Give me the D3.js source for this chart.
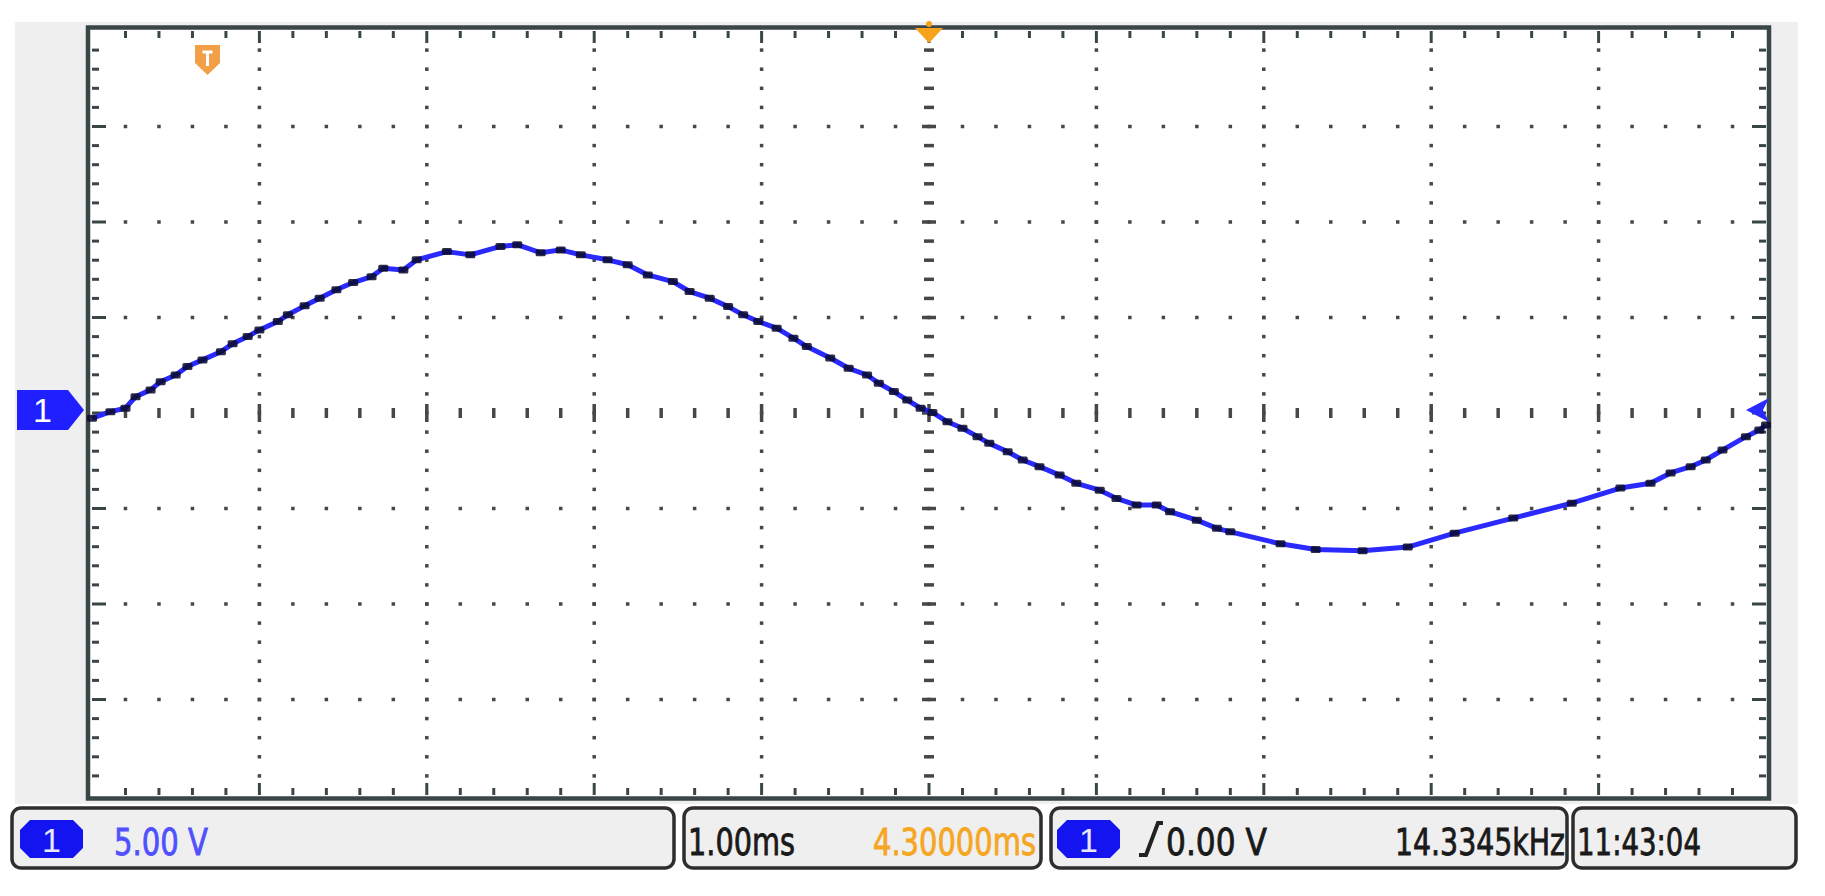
<!DOCTYPE html>
<html>
<head>
<meta charset="utf-8">
<script src="https://cdn.jsdelivr.net/npm/d3@7"></script>
<style>
    body { margin: 0; background: #ffffff; }
    svg { display: block; }
    .readout { font-family: "Liberation Sans Narrow", "DejaVu Sans Condensed", "Liberation Sans", Arial, sans-serif; }
</style>
</head>
<body>
<div id="scope"></div>
<script>
// trace: time in ms, channel 1 in volts
var timeMs = [0.00, 0.11, 0.20, 0.26, 0.35, 0.41, 0.50, 0.57, 0.66, 0.77, 0.84, 0.93,
    1.00, 1.11, 1.17, 1.27, 1.36, 1.46, 1.56, 1.67, 1.74, 1.86, 1.94, 2.12, 2.26,
    2.44, 2.54, 2.68, 2.80, 2.92, 3.08, 3.20, 3.32, 3.47, 3.57, 3.69, 3.80, 3.89,
    3.98, 4.09, 4.19, 4.27, 4.41, 4.52, 4.63, 4.70, 4.79, 4.87, 4.95, 5.02, 5.11,
    5.20, 5.29, 5.36, 5.47, 5.56, 5.66, 5.78, 5.88, 6.02, 6.12, 6.24, 6.36, 6.44,
    6.60, 6.72, 6.80, 7.10, 7.31, 7.59, 7.86, 8.14, 8.49, 8.84, 9.13, 9.31, 9.43,
    9.55, 9.64, 9.74, 9.88, 9.96, 10.00];
var volts = [-0.28, 0.07, 0.25, 0.85, 1.21, 1.64, 1.99, 2.43, 2.78, 3.21, 3.62, 4.00,
    4.35, 4.79, 5.14, 5.61, 6.01, 6.45, 6.83, 7.14, 7.58, 7.49, 8.02, 8.45, 8.28,
    8.72, 8.81, 8.39, 8.54, 8.28, 8.02, 7.76, 7.23, 6.88, 6.36, 6.01, 5.57, 5.14,
    4.79, 4.44, 3.92, 3.48, 2.88, 2.34, 1.99, 1.56, 1.12, 0.68, 0.25, 0.03, -0.46,
    -0.80, -1.24, -1.59, -2.03, -2.46, -2.81, -3.25, -3.68, -4.04, -4.47, -4.82, -4.82, -5.17,
    -5.61, -6.04, -6.22, -6.85, -7.15, -7.21, -7.02, -6.29, -5.50, -4.72, -3.93, -3.68, -3.14,
    -2.81, -2.46, -1.94, -1.24, -0.89, -0.63];

// screen settings
var msPerDiv = 1.0;
var voltsPerDiv = 5.0;
var hDivs = 10;
var vDivs = 8;
var minorPerDiv = 5;
var triggerMs = 5.0;

// readout bar texts
var chScaleText = "5.00 V";
var timebaseText = "1.00ms";
var delayText = "4.30000ms";
var trigLevelText = "0.00 V";
var freqText = "14.3345kHz";
var clockText = "11:43:04";
var channelName = "1";

var W = 1825, H = 896;
var plot = { left: 92, right: 1766, top: 31, bottom: 795 };

var svg = d3.select("#scope")
    .append("svg")
    .attr("width", W)
    .attr("height", H);

// scales: one division on screen = msPerDiv / voltsPerDiv
var x = d3.scaleLinear()
    .domain([0, hDivs * msPerDiv])
    .range([plot.left, plot.right]);
var y = d3.scaleLinear()
    .domain([-vDivs / 2 * voltsPerDiv, vDivs / 2 * voltsPerDiv])
    .range([plot.bottom, plot.top]);

var minorX = d3.range(0, hDivs * minorPerDiv + 1).map(function (i) { return i * msPerDiv / minorPerDiv; });
var minorY = d3.range(-vDivs / 2 * minorPerDiv, vDivs / 2 * minorPerDiv + 1).map(function (i) { return i * voltsPerDiv / minorPerDiv; });
var majorX = d3.range(1, hDivs).map(function (i) { return i * msPerDiv; });
var majorY = d3.range(-vDivs / 2 + 1, vDivs / 2).map(function (i) { return i * voltsPerDiv; });
var isMajorX = function (t) { return Math.abs(t / msPerDiv - Math.round(t / msPerDiv)) < 1e-6; };
var isMajorY = function (v) { return Math.abs(v / voltsPerDiv - Math.round(v / voltsPerDiv)) < 1e-6; };
var centerT = triggerMs;

// grey panel behind the screen
svg.append("rect")
    .attr("x", 15).attr("y", 22)
    .attr("width", 1783).attr("height", 782)
    .attr("fill", "#efefef");

svg.append("rect")
    .attr("x", plot.left - 4).attr("y", plot.top - 4)
    .attr("width", plot.right - plot.left + 8).attr("height", plot.bottom - plot.top + 8)
    .attr("fill", "#ffffff");

var grid = svg.append("g").attr("fill", "#474747");

// dotted vertical grid lines
majorX.filter(function (t) { return t !== centerT; }).forEach(function (t) {
    grid.selectAll(null)
        .data(minorY.slice(1, -1))
        .enter().append("rect")
        .attr("x", x(t) - 1.75).attr("y", function (v) { return y(v) - 1.75; })
        .attr("width", 3.5).attr("height", 3.5);
});

// dotted horizontal grid lines
majorY.filter(function (v) { return v !== 0; }).forEach(function (v) {
    grid.selectAll(null)
        .data(minorX.slice(1, -1))
        .enter().append("rect")
        .attr("x", function (t) { return x(t) - 1.75; }).attr("y", y(v) - 1.75)
        .attr("width", 3.5).attr("height", 3.5);
});

// centre cross with little ticks
grid.selectAll(null)
    .data(minorX.slice(1, -1))
    .enter().append("rect")
    .attr("x", function (t) { return x(t) - 1.75; })
    .attr("y", function (t) { return y(0) - (isMajorX(t) ? 9 : 5); })
    .attr("width", 3.5)
    .attr("height", function (t) { return isMajorX(t) ? 18 : 10; });
grid.selectAll(null)
    .data(minorY.slice(1, -1))
    .enter().append("rect")
    .attr("x", function (v) { return x(centerT) - (isMajorY(v) ? 7 : 5); })
    .attr("y", function (v) { return y(v) - 1.75; })
    .attr("width", function (v) { return isMajorY(v) ? 14 : 10; })
    .attr("height", 3.5);

// edge ticks on all four sides
var edge = svg.append("g").attr("stroke", "#3a4646").attr("stroke-width", 3);
edge.selectAll(null).data(minorX.slice(1, -1)).enter().append("line")
    .attr("x1", function (t) { return x(t); }).attr("x2", function (t) { return x(t); })
    .attr("y1", plot.top).attr("y2", function (t) { return plot.top + (isMajorX(t) ? 12 : 7); });
edge.selectAll(null).data(minorX.slice(1, -1)).enter().append("line")
    .attr("x1", function (t) { return x(t); }).attr("x2", function (t) { return x(t); })
    .attr("y1", plot.bottom).attr("y2", function (t) { return plot.bottom - (isMajorX(t) ? 12 : 7); });
edge.selectAll(null).data(minorY.slice(1, -1)).enter().append("line")
    .attr("y1", function (v) { return y(v); }).attr("y2", function (v) { return y(v); })
    .attr("x1", plot.left).attr("x2", function (v) { return plot.left + (isMajorY(v) ? 14 : 7); });
edge.selectAll(null).data(minorY.slice(1, -1)).enter().append("line")
    .attr("y1", function (v) { return y(v); }).attr("y2", function (v) { return y(v); })
    .attr("x1", plot.right).attr("x2", function (v) { return plot.right - (isMajorY(v) ? 14 : 7); });

// screen frame
svg.append("rect")
    .attr("x", plot.left - 4).attr("y", plot.top - 3.5)
    .attr("width", plot.right - plot.left + 7).attr("height", plot.bottom - plot.top + 7)
    .attr("fill", "none")
    .attr("stroke", "#3a4646")
    .attr("stroke-width", 4.5);

// the trace: blue line with the dark sample dots on it
var trace = timeMs.map(function (t, i) { return { t: t, v: volts[i] }; });
svg.append("path")
    .datum(trace)
    .attr("fill", "none")
    .attr("stroke", "#2a2aff")
    .attr("stroke-width", 5)
    .attr("stroke-linejoin", "round")
    .attr("d", d3.line()
        .x(function (d) { return x(d.t); })
        .y(function (d) { return y(d.v); })
    );
svg.append("g")
    .selectAll("rect")
    .data(trace)
    .enter().append("rect")
    .attr("x", function (d) { return x(d.t) - 5; })
    .attr("y", function (d) { return y(d.v) - 3.5; })
    .attr("width", 10).attr("height", 7)
    .attr("rx", 1.5)
    .attr("fill", "#0a0a2a")
    .attr("opacity", 0.85);

// channel 1 ground marker on the left
var g0 = y(0) - 3;
svg.append("path")
    .attr("d", "M17," + (g0 - 20) + "H68L84," + g0 + "L68," + (g0 + 20) + "H17Z")
    .attr("fill", "#1f1fff");
svg.append("text")
    .attr("x", 33).attr("y", g0 + 12)
    .attr("fill", "#ffffff")
    .style("font-family", "Liberation Sans, Arial, sans-serif")
    .style("font-size", "34px")
    .text(channelName);

// blue marker on the right edge
svg.append("path")
    .attr("d", "M1769," + (g0 - 12) + "L1746," + g0 + "L1769," + (g0 + 12) + "L1763," + g0 + "Z")
    .attr("fill", "#2a2aff");

// trigger position (orange, top)
svg.append("path")
    .attr("d", "M" + (x(centerT) - 14) + "," + (plot.top - 3) + "H" + (x(centerT) + 14) + "L" + x(centerT) + "," + (plot.top + 12) + "Z")
    .attr("fill", "#f7a21b");
svg.append("circle")
    .attr("cx", x(centerT)).attr("cy", plot.top - 7).attr("r", 3)
    .attr("fill", "#f7a21b");

// trigger level marker (orange shield, top left)
var tx = 207.5;
svg.append("path")
    .attr("d", "M" + (tx - 12.5) + ",45H" + (tx + 12.5) + "V63L" + tx + ",75L" + (tx - 12.5) + ",63Z")
    .attr("fill", "#f2a048");
svg.append("path")
    .attr("d", "M" + (tx - 5) + ",52H" + (tx + 5) + "M" + tx + ",52V66")
    .attr("stroke", "#ffffff")
    .attr("stroke-width", 3);

// readout bar at the bottom
var boxes = [
    { x: 12, w: 662 },
    { x: 684, w: 357 },
    { x: 1051, w: 516 },
    { x: 1573, w: 223 }
];
var by = 808, bh = 60;
svg.append("g").selectAll("rect")
    .data(boxes)
    .enter().append("rect")
    .attr("x", function (d) { return d.x; }).attr("y", by)
    .attr("width", function (d) { return d.w; }).attr("height", bh)
    .attr("rx", 9)
    .attr("fill", "#efefef")
    .attr("stroke", "#2e2e2e")
    .attr("stroke-width", 3.5);

// channel badges
[20, 1057].forEach(function (bx) {
    svg.append("path")
        .attr("d", "M" + (bx + 10) + "," + (by + 12) + "H" + (bx + 53) + "L" + (bx + 63) + "," + (by + 22) + "V" + (by + 40) +
            "L" + (bx + 53) + "," + (by + 50) + "H" + (bx + 10) + "L" + bx + "," + (by + 40) + "V" + (by + 22) + "Z")
        .attr("fill", "#1414f0");
    svg.append("text")
        .attr("x", bx + 31.5).attr("y", by + 44)
        .attr("text-anchor", "middle")
        .attr("fill", "#e8e8ff")
        .style("font-family", "Liberation Sans, Arial, sans-serif")
        .style("font-size", "34px")
        .text(channelName);
});

// rising edge symbol
svg.append("path")
    .attr("d", "M1139," + (by + 47) + "H1146L1158," + (by + 15) + "H1163")
    .attr("fill", "none")
    .attr("stroke", "#222")
    .attr("stroke-width", 4);

var labels = [
    { text: chScaleText, x: 114, w: 94, color: "#5050ff" },
    { text: timebaseText, x: 688, w: 107, color: "#1a1a1a" },
    { text: delayText, x: 873, w: 163, color: "#f5a623" },
    { text: trigLevelText, x: 1166, w: 101, color: "#1a1a1a" },
    { text: freqText, x: 1395, w: 170, color: "#1a1a1a" },
    { text: clockText, x: 1577, w: 124, color: "#1a1a1a" }
];
svg.append("g").selectAll("text")
    .data(labels)
    .enter().append("text")
    .attr("class", "readout")
    .attr("x", function (d) { return d.x; })
    .attr("y", by + 47)
    .attr("textLength", function (d) { return d.w; })
    .attr("lengthAdjust", "spacingAndGlyphs")
    .attr("fill", function (d) { return d.color; })
    .attr("stroke", function (d) { return d.color; })
    .attr("stroke-width", 0.8)
    .style("font-size", "38px")
    .text(function (d) { return d.text; });
</script>
</body>
</html>
